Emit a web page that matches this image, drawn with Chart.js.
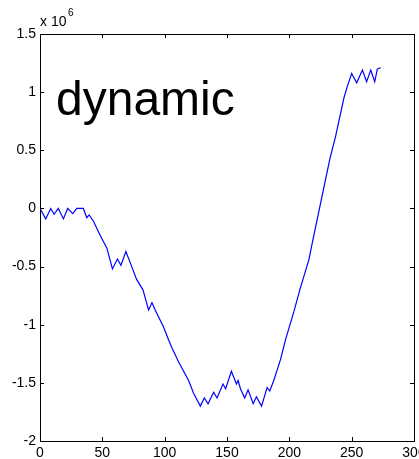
<!DOCTYPE html>
<html>
<head>
<meta charset="utf-8">
<script src="https://cdn.jsdelivr.net/npm/chart.js@4/dist/chart.umd.min.js"></script>
<style>
  html, body { margin: 0; padding: 0; background: #fff; }
  #wrap { width: 419px; height: 459px; position: relative; }
</style>
</head>
<body>
<div id="wrap"><canvas id="c" width="419" height="459"></canvas></div>
<script>
// Sample index along the trace
const xValues = [0, 4.6, 8.6, 11.3, 14.7, 18.8, 22.2, 26.3, 29.5, 34.8, 37.5, 39.4, 42.9, 48.2, 53.6,
  58.1, 62.1, 64.9, 68.9, 73.2, 77.5, 82.6, 87.1, 89.8, 92.4, 99.1, 103.1, 105.9, 111.2, 119.2,
  123.2, 128.6, 131.8, 134.8, 139.3, 142.0, 146.8, 148.9, 153.5, 157.6, 158.9, 160.8, 164.2, 166.9,
  171.0, 173.6, 177.7, 182.2, 184.3, 187.5, 192.9, 196.9, 203.6, 208.4, 215.7, 218.9, 232.6, 237.1,
  243.8, 246.5, 250.0, 254.0, 258.6, 262.0, 265.3, 268.5, 270.6, 273.3];
// Dynamic value, in units of 10^6
const yValues = [0, -0.09, 0, -0.05, 0, -0.09, 0, -0.045, 0, 0, -0.08, -0.056, -0.11, -0.23, -0.34,
  -0.52, -0.435, -0.49, -0.37, -0.49, -0.61, -0.70, -0.874, -0.81, -0.874, -1.02, -1.13, -1.20, -1.32, -1.48,
  -1.59, -1.70, -1.63, -1.68, -1.58, -1.63, -1.51, -1.55, -1.40, -1.51, -1.48, -1.55, -1.63, -1.56,
  -1.68, -1.62, -1.70, -1.54, -1.57, -1.48, -1.30, -1.13, -0.89, -0.70, -0.44, -0.27, 0.43, 0.62,
  0.95, 1.05, 1.16, 1.08, 1.19, 1.09, 1.19, 1.09, 1.20, 1.21];
const xTicks = [0, 50, 100, 150, 200, 250, 300];
const yTicks = [-2, -1.5, -1, -0.5, 0, 0.5, 1, 1.5];
const chartLabel = 'dynamic';

const narrowFamily = "'Liberation Sans Narrow', 'Arial Narrow', 'Liberation Sans', Arial, sans-serif";
const tickFont = { family: narrowFamily, size: 14 };

// Axes box with inward tick marks on all four sides, plus the exponent note and the panel label
const boxPlugin = {
  id: 'boxAxes',
  afterDraw(chart) {
    const { ctx, chartArea: a, scales } = chart;
    ctx.save();
    ctx.strokeStyle = '#000';
    ctx.lineWidth = 1;
    ctx.strokeRect(Math.round(a.left) + 0.5, Math.round(a.top) + 0.5,
      Math.round(a.right - a.left), Math.round(a.bottom - a.top));
    const tl = 4;
    ctx.beginPath();
    xTicks.forEach(v => {
      const px = Math.round(scales.x.getPixelForValue(v)) + 0.5;
      ctx.moveTo(px, a.bottom); ctx.lineTo(px, a.bottom - tl);
      ctx.moveTo(px, a.top); ctx.lineTo(px, a.top + tl);
    });
    yTicks.forEach(v => {
      const py = Math.round(scales.y.getPixelForValue(v)) + 0.5;
      ctx.moveTo(a.left, py); ctx.lineTo(a.left + tl, py);
      ctx.moveTo(a.right, py); ctx.lineTo(a.right - tl, py);
    });
    ctx.stroke();

    ctx.fillStyle = '#000';
    ctx.textAlign = 'left';
    ctx.textBaseline = 'alphabetic';
    ctx.font = '14px ' + narrowFamily;
    ctx.fillText('x 10', a.left, a.top - 8);
    const w = ctx.measureText('x 10').width;
    ctx.font = '10px ' + narrowFamily;
    ctx.fillText('6', a.left + w + 1.5, a.top - 18);

    ctx.font = "48px 'Liberation Sans', Arial, sans-serif";
    ctx.fillText(chartLabel, a.left + 16, a.top + 81);
    ctx.restore();
  }
};

new Chart(document.getElementById('c'), {
  type: 'scatter',
  data: {
    datasets: [{
      data: xValues.map((x, i) => ({ x, y: yValues[i] })),
      showLine: true,
      borderColor: '#0000ff',
      borderWidth: 1.2,
      pointRadius: 0,
      tension: 0,
      fill: false
    }]
  },
  options: {
    responsive: false,
    animation: false,
    devicePixelRatio: 1,
    layout: { padding: { left: 0, top: 34, right: 5, bottom: 0 } },
    plugins: { legend: { display: false }, tooltip: { enabled: false } },
    scales: {
      x: {
        type: 'linear', min: 0, max: 300,
        afterBuildTicks: s => { s.ticks = xTicks.map(v => ({ value: v })); },
        afterFit: s => { s.height = 18; s.paddingLeft = 0; s.paddingRight = 0; },
        grid: { display: false, drawTicks: false },
        border: { display: false },
        ticks: { color: '#000', font: tickFont, padding: 4, maxRotation: 0, autoSkip: false,
          callback: v => String(v) }
      },
      y: {
        type: 'linear', min: -2, max: 1.5,
        afterBuildTicks: s => { s.ticks = yTicks.map(v => ({ value: v })); },
        afterFit: s => { s.width = 40; s.paddingTop = 0; s.paddingBottom = 0; },
        grid: { display: false, drawTicks: false },
        border: { display: false },
        ticks: { color: '#000', font: tickFont, padding: 4, autoSkip: false,
          callback: v => String(v) }
      }
    }
  },
  plugins: [boxPlugin]
});
</script>
</body>
</html>
